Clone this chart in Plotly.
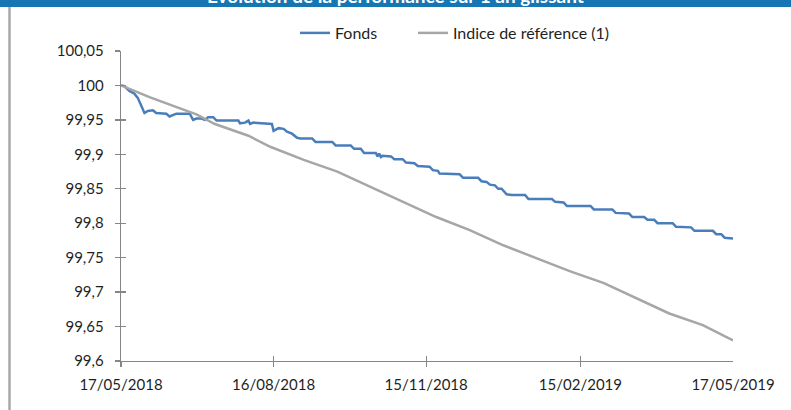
import plotly.graph_objects as go

# ---------------- data ----------------
fonds_dates = [
    "2018-05-17", "2018-05-19", "2018-05-22", "2018-05-25", "2018-05-27", "2018-05-29",
    "2018-05-31", "2018-06-02", "2018-06-05", "2018-06-07", "2018-06-13", "2018-06-15",
    "2018-06-17", "2018-06-19", "2018-06-27", "2018-06-29", "2018-07-01", "2018-07-04",
    "2018-07-06", "2018-07-08", "2018-07-11", "2018-07-13", "2018-07-26", "2018-07-27",
    "2018-07-30", "2018-08-01", "2018-08-02", "2018-08-04", "2018-08-15", "2018-08-16",
    "2018-08-19", "2018-08-22", "2018-08-24", "2018-08-27", "2018-08-30", "2018-09-01",
    "2018-09-08", "2018-09-10", "2018-09-20", "2018-09-22", "2018-10-01", "2018-10-03",
    "2018-10-07", "2018-10-09", "2018-10-16", "2018-10-17", "2018-10-18", "2018-10-19",
    "2018-10-20", "2018-10-25", "2018-10-27", "2018-11-01", "2018-11-03", "2018-11-08",
    "2018-11-10", "2018-11-17", "2018-11-19", "2018-11-22", "2018-11-23", "2018-12-05",
    "2018-12-07", "2018-12-16", "2018-12-18", "2018-12-21", "2018-12-23", "2018-12-26",
    "2018-12-28", "2018-12-30", "2019-01-02", "2019-01-05", "2019-01-13", "2019-01-15",
    "2019-01-29", "2019-01-31", "2019-02-05", "2019-02-07", "2019-02-21", "2019-02-23",
    "2019-03-06", "2019-03-08", "2019-03-16", "2019-03-18", "2019-03-25", "2019-03-27",
    "2019-03-31", "2019-04-02", "2019-04-11", "2019-04-13", "2019-04-22", "2019-04-24",
    "2019-05-05", "2019-05-07", "2019-05-10", "2019-05-12", "2019-05-17",
]
fonds_values = [
    100.000, 99.999, 99.992, 99.988, 99.982, 99.970,
    99.960, 99.963, 99.964, 99.960, 99.959, 99.955,
    99.957, 99.959, 99.959, 99.950, 99.952, 99.952,
    99.950, 99.954, 99.954, 99.949, 99.949, 99.945,
    99.946, 99.949, 99.944, 99.946, 99.944, 99.934,
    99.938, 99.937, 99.933, 99.930, 99.924, 99.923,
    99.923, 99.918, 99.918, 99.913, 99.913, 99.908,
    99.908, 99.902, 99.902, 99.897, 99.901, 99.896,
    99.898, 99.897, 99.893, 99.893, 99.888, 99.887,
    99.883, 99.882, 99.877, 99.876, 99.872, 99.871,
    99.866, 99.866, 99.861, 99.860, 99.856, 99.855,
    99.850, 99.850, 99.842, 99.841, 99.841, 99.835,
    99.835, 99.831, 99.830, 99.825, 99.825, 99.820,
    99.820, 99.815, 99.814, 99.809, 99.809, 99.805,
    99.805, 99.800, 99.800, 99.795, 99.794, 99.789,
    99.789, 99.784, 99.784, 99.779, 99.778,
]

indice_dates = [
    "2018-05-17", "2018-05-25", "2018-06-03", "2018-06-22", "2018-07-01", "2018-07-12",
    "2018-08-01", "2018-08-14", "2018-09-03", "2018-09-23", "2018-10-13", "2018-11-01",
    "2018-11-21", "2018-12-11", "2018-12-31", "2019-01-20", "2019-02-09", "2019-03-01",
    "2019-03-21", "2019-04-09", "2019-04-29", "2019-05-17",
]
indice_values = [
    100.000, 99.992, 99.983, 99.966, 99.958, 99.944,
    99.927, 99.911, 99.892, 99.875, 99.853, 99.831,
    99.809, 99.790, 99.768, 99.749, 99.730, 99.713,
    99.691, 99.669, 99.652, 99.630,
]

series_names = ["Fonds", "Indice de référence (1)"]
title_text = "Évolution de la performance sur 1 an glissant"

x_tick_dates = ["2018-05-17", "2018-08-16", "2018-11-15", "2019-02-15", "2019-05-17"]
x_tick_labels = ["17/05/2018", "16/08/2018", "15/11/2018", "15/02/2019", "17/05/2019"]
y_tick_values = [99.6, 99.65, 99.7, 99.75, 99.8, 99.85, 99.9, 99.95, 100.0, 100.05]
y_tick_labels = ["99,6", "99,65", "99,7", "99,75", "99,8", "99,85", "99,9", "99,95", "100", "100,05"]

# ---------------- styles ----------------
W, H = 791, 410
ML, MR, MT, MB = 121, 58, 51, 49
PW, PH = W - ML - MR, H - MT - MB
FONT = "Lato, 'Open Sans', sans-serif"
AXIS_COLOR = "#868686"
TEXT_COLOR = "#1f1f1f"
BLUE = "#4a7ebb"
GREY = "#a6a6a6"
BANNER = "#1676b3"

def px_to_paper_x(px):
    return (px - ML) / PW

def px_to_paper_y(py):
    return (H - MB - py) / PH

X_RANGE = [x_tick_dates[0], x_tick_dates[-1]]
Y_RANGE = [y_tick_values[0], y_tick_values[-1]]

fig = go.Figure()
fig.add_trace(go.Scatter(x=fonds_dates, y=fonds_values, name=series_names[0], mode="lines",
                         line=dict(color=BLUE, width=2.5), legend="legend"))
fig.add_trace(go.Scatter(x=indice_dates, y=indice_values, name=series_names[1], mode="lines",
                         line=dict(color=GREY, width=2.5), legend="legend2"))
# empty helpers so the overlay axes (cross tick marks) are drawn
fig.add_trace(go.Scatter(x=[], y=[], xaxis="x2", yaxis="y2", showlegend=False, hoverinfo="skip"))
fig.add_trace(go.Scatter(x=[], y=[], xaxis="x3", yaxis="y2", showlegend=False, hoverinfo="skip"))

tick_font = dict(family=FONT, size=15, color=TEXT_COLOR)
legend_font = dict(family=FONT, size=16, color=TEXT_COLOR)

def legend_at(px_left):
    return dict(orientation="h", x=px_to_paper_x(px_left), xanchor="left",
                y=px_to_paper_y(33), yanchor="middle", font=legend_font,
                bgcolor="rgba(0,0,0,0)", borderwidth=0)

fig.update_layout(
    width=W, height=H,
    margin=dict(l=ML, r=MR, t=MT, b=MB, pad=0, autoexpand=False),
    paper_bgcolor="white", plot_bgcolor="white",
    font=dict(family=FONT, color=TEXT_COLOR),
    showlegend=True,
    legend=legend_at(295),
    legend2=legend_at(413),
    xaxis=dict(type="date", range=X_RANGE, tickmode="array", tickvals=x_tick_dates,
               ticktext=x_tick_labels, ticks="", showline=True, linecolor=AXIS_COLOR,
               linewidth=1.3, showgrid=False, zeroline=False, tickfont=tick_font,
               ticklabelstandoff=10, fixedrange=True, automargin=False),
    xaxis2=dict(type="date", range=X_RANGE, overlaying="x", anchor="y", side="bottom",
                tickmode="array", tickvals=x_tick_dates[:-1], ticks="outside", ticklen=5,
                tickcolor=AXIS_COLOR, tickwidth=1.3, showticklabels=False, showline=False,
                showgrid=False, zeroline=False, automargin=False),
    xaxis3=dict(type="date", range=X_RANGE, overlaying="x", anchor="y", side="bottom",
                tickmode="array", tickvals=x_tick_dates[:-1], ticks="inside", ticklen=5,
                tickcolor=AXIS_COLOR, tickwidth=1.3, showticklabels=False, showline=False,
                showgrid=False, zeroline=False, automargin=False),
    yaxis=dict(range=Y_RANGE, tickmode="array", tickvals=y_tick_values, ticktext=y_tick_labels,
               ticks="outside", ticklen=5, tickcolor=AXIS_COLOR, tickwidth=1.3,
               showline=True, linecolor=AXIS_COLOR, linewidth=1.3, showgrid=False,
               zeroline=False, tickfont=tick_font, ticklabelstandoff=8, fixedrange=True,
               automargin=False),
    yaxis2=dict(range=Y_RANGE, overlaying="y", anchor="x", side="left", tickmode="array",
                tickvals=y_tick_values, ticks="inside", ticklen=5, tickcolor=AXIS_COLOR,
                tickwidth=1.3, showticklabels=False, showline=False, showgrid=False,
                zeroline=False, automargin=False),
    shapes=[
        dict(type="rect", xref="paper", yref="paper",
             x0=px_to_paper_x(0), x1=px_to_paper_x(W), y0=px_to_paper_y(7), y1=px_to_paper_y(-2),
             fillcolor=BANNER, line=dict(width=0), layer="above"),
        dict(type="line", xref="paper", yref="paper",
             x0=px_to_paper_x(9.5), x1=px_to_paper_x(9.5), y0=px_to_paper_y(7), y1=px_to_paper_y(H + 2),
             line=dict(color="#a9a9a9", width=2.5)),
    ],
    annotations=[
        dict(text="<b>" + title_text + "</b>", xref="paper", yref="paper",
             x=px_to_paper_x(395), xanchor="center", y=px_to_paper_y(9), yanchor="bottom",
             showarrow=False, font=dict(family=FONT, size=19, color="white")),
    ],
)

fig.write_html(
    "out.html",
    config={"displayModeBar": False, "staticPlot": True},
    post_script="document.body.style.margin='0';document.body.style.overflow='hidden';",
)
